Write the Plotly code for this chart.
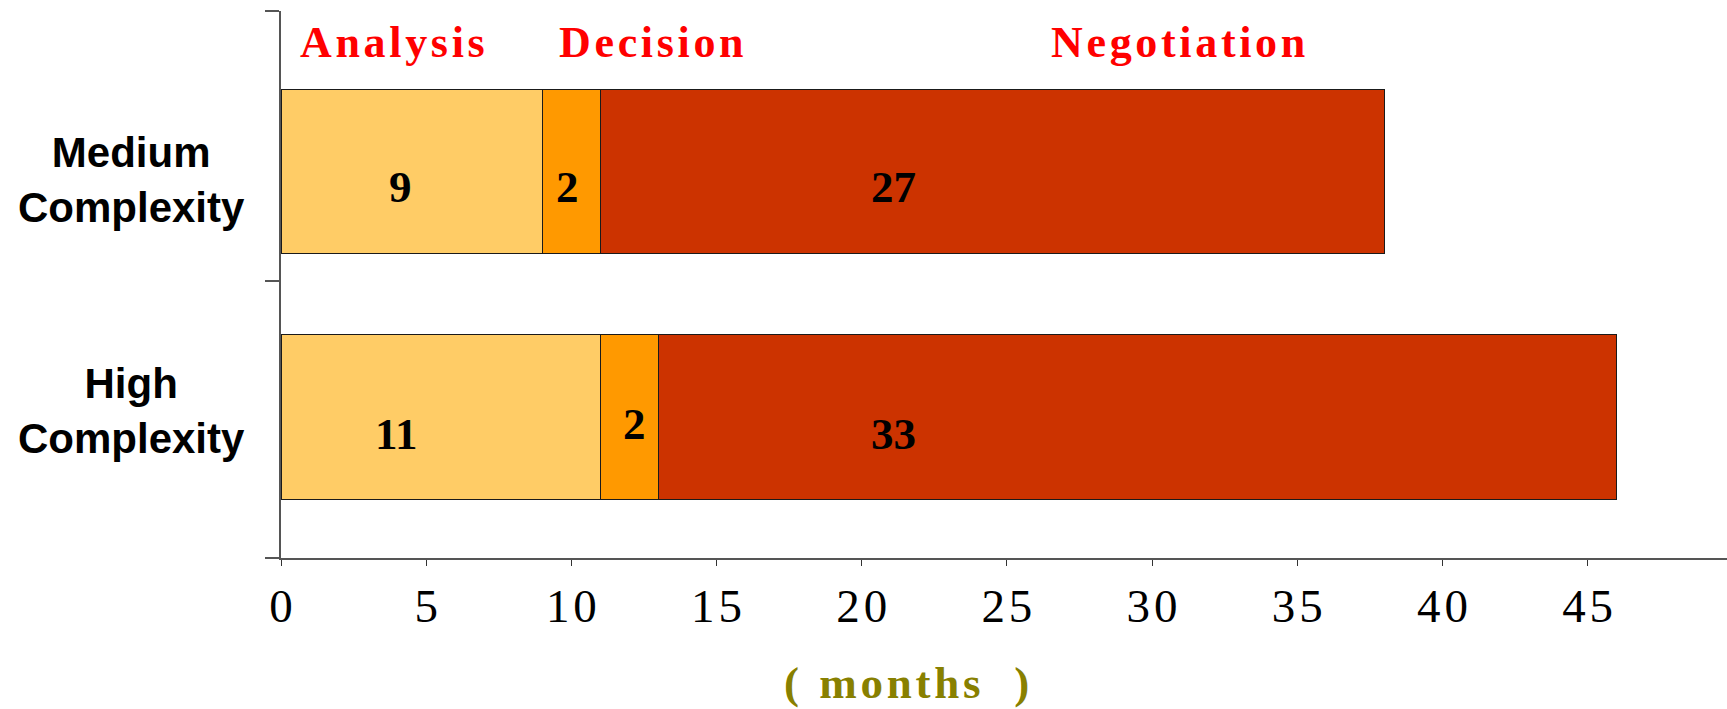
import plotly.graph_objects as go

# ---- data ----
categories = ["Medium Complexity", "High Complexity"]
category_labels = ["Medium<br>Complexity", "High<br>Complexity"]
series_names = ["Analysis", "Decision", "Negotiation"]
analysis = [9, 11]
decision = [2, 2]
negotiation = [27, 33]
x_ticks = [0, 5, 10, 15, 20, 25, 30, 35, 40, 45]
x_title = "( months )"

# ---- style ----
colors = ["#FFCC66", "#FF9900", "#CC3300"]
SERIF = "Liberation Serif, Times New Roman, serif"
SANS = "Liberation Sans, Arial, sans-serif"
W, H = 1727, 709
ML, MR, MT, MB = 281, 0, 11, 151
# pixel nudges for value labels (series x category)
label_dx = [[-11, -44], [-4, 5], [-99, -244]]
label_dy = [[-15, -17], [-15, -7], [-15, -17]]
header_x = [0.0768, 0.256, 0.620]   # paper fractions of header labels


def spaced(s, sp="\u200a"):
    return sp.join(list(s))


def spaced_title(t):
    inner = t.strip("() ")
    return "(\u2009 " + spaced(inner) + " \u2002)"


series = [analysis, decision, negotiation]
fig = go.Figure()
for name, vals, col in zip(series_names, series, colors):
    fig.add_trace(go.Bar(
        y=categories, x=vals, name=name, orientation="h",
        marker=dict(color=col, line=dict(color="#1a1a1a", width=1)),
        showlegend=False, hoverinfo="x+name",
    ))

annotations = []
# value labels
for si, vals in enumerate(series):
    for ci, cat in enumerate(categories):
        base = sum(series[k][ci] for k in range(si))
        annotations.append(dict(
            x=base + vals[ci] / 2, y=cat, xref="x", yref="y",
            text=f"<b>{vals[ci]}</b>", showarrow=False,
            xshift=label_dx[si][ci], yshift=label_dy[si][ci],
            font=dict(family=SERIF, size=45, color="black"),
        ))
# category labels (centered lines)
cat_dy = [-8, 6]
for ci, (cat, lab) in enumerate(zip(categories, category_labels)):
    annotations.append(dict(
        x=0, y=cat, xref="paper", yref="y", xanchor="right",
        xshift=-34, yshift=cat_dy[ci], align="center",
        text=f"<b>{lab}</b>", showarrow=False,
        font=dict(family=SANS, size=42, color="black"),
    ))
# series headers
for name, hx in zip(series_names, header_x):
    annotations.append(dict(
        x=hx, y=1, xref="paper", yref="paper", xanchor="center",
        yanchor="middle", yshift=-31, showarrow=False,
        text=f"<b>{spaced(name)}</b>",
        font=dict(family=SERIF, size=44, color="#FF0000"),
    ))
# x-axis title
annotations.append(dict(
    x=(906 - ML) / (W - ML - MR), y=0, xref="paper", yref="paper",
    xanchor="center", yanchor="middle", yshift=-125, showarrow=False,
    text=f"<b>{spaced_title(x_title)}</b>",
    font=dict(family=SERIF, size=45, color="#888000"),
))

fig.update_layout(
    barmode="stack", bargap=0.329,
    width=W, height=H,
    margin=dict(l=ML, r=MR, t=MT, b=MB, pad=0),
    paper_bgcolor="white", plot_bgcolor="white",
    annotations=annotations,
    xaxis=dict(
        range=[0, 49.8], tickvals=x_ticks,
        ticktext=[spaced(str(t)) for t in x_ticks],
        ticks="outside", ticklen=6, tickwidth=1, tickcolor="#333",
        showline=True, linecolor="#555", linewidth=2,
        showgrid=False, zeroline=False,
        tickfont=dict(family=SERIF, size=47, color="black"),
        ticklabelstandoff=0,
    ),
    yaxis=dict(
        type="category", categoryarray=categories[::-1],
        range=[-0.576, 1.656], showticklabels=False, ticks="",
        showline=False, showgrid=False, zeroline=False,
    ),
    yaxis2=dict(
        overlaying="y", anchor="x", side="left", range=[0, 1],
        tickvals=[0, 0.5064, 1], ticks="outside", ticklen=14,
        tickcolor="#555", tickwidth=1.5,
        showticklabels=False, showline=True, linecolor="#555",
        linewidth=1.5, showgrid=False, zeroline=False,
    ),
)
# invisible helper trace so the overlay axis (line + boundary ticks) is drawn
fig.add_trace(go.Scatter(x=[None], y=[None], yaxis="y2", showlegend=False,
                         hoverinfo="skip"))

fig.write_html(
    "out.html",
    config={"displayModeBar": False},
    post_script="document.body.style.margin='0';document.body.style.overflow='hidden';",
)
